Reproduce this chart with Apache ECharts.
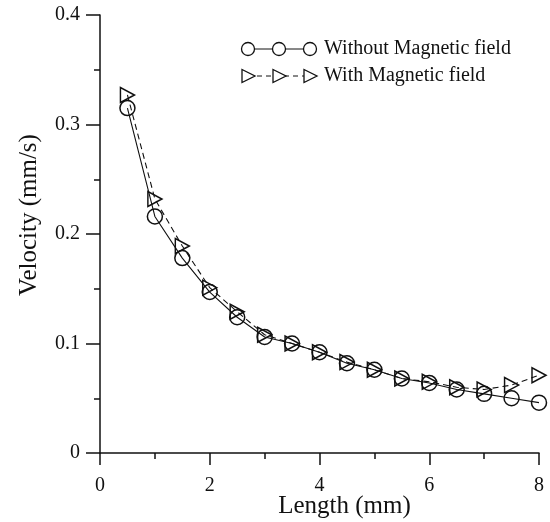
<!DOCTYPE html>
<html>
<head>
<meta charset="utf-8">
<script src="https://cdn.jsdelivr.net/npm/echarts@6/dist/echarts.min.js"></script>
<style>
  html, body { margin: 0; padding: 0; background: #fff; }
  #chart { width: 550px; height: 522px; }
</style>
</head>
<body>
<div id="chart"></div>
<script>
// Measurement positions along the sample (mm)
const lengths = [0.5, 1.0, 1.5, 2.0, 2.5, 3.0, 3.5, 4.0, 4.5, 5.0, 5.5, 6.0, 6.5, 7.0, 7.5, 8.0];
// Velocity without magnetic field (mm/s)
const velocityWithout = [0.315, 0.216, 0.178, 0.147, 0.124, 0.106, 0.100, 0.092, 0.082, 0.076, 0.068, 0.064, 0.058, 0.054, 0.050, 0.046];
// Velocity with magnetic field (mm/s)
const velocityWith = [0.327, 0.232, 0.189, 0.151, 0.129, 0.108, 0.100, 0.092, 0.083, 0.076, 0.068, 0.065, 0.060, 0.058, 0.062, 0.071];

const seriesNames = ['Without Magnetic field', 'With Magnetic field'];

const FONT = "'Liberation Serif', 'Times New Roman', serif";
const INK = '#111';

const pairs = (xs, ys) => xs.map((x, i) => [x, ys[i]]);

const chart = echarts.init(document.getElementById('chart'), null, { renderer: 'canvas' });

// Legend rows: short line with three markers, then the label
function legendRow(y, symbol, dashed, label) {
  const x0 = 248, x1 = 310, xm = 279;
  const children = [{
    type: 'line',
    shape: { x1: x0, y1: y, x2: x1, y2: y },
    style: { stroke: INK, lineWidth: 1, lineDash: dashed ? [5, 4] : null }
  }];
  [x0, xm, x1].forEach(cx => {
    if (symbol === 'circle') {
      children.push({
        type: 'circle',
        shape: { cx: cx, cy: y, r: 6.5 },
        style: { fill: '#fff', stroke: INK, lineWidth: 1.3 }
      });
    } else {
      children.push({
        type: 'polygon',
        shape: { points: [[cx - 6, y - 6.5], [cx + 7, y], [cx - 6, y + 6.5]] },
        style: { fill: '#fff', stroke: INK, lineWidth: 1.3 }
      });
    }
  });
  children.push({
    type: 'text',
    style: {
      x: 324, y: y, text: label, fill: INK,
      font: '20px ' + FONT, textVerticalAlign: 'middle', textAlign: 'left'
    }
  });
  return { type: 'group', children: children };
}

chart.setOption({
  backgroundColor: '#fff',
  animation: false,
  grid: { left: 100, top: 15, right: 11, bottom: 69, containLabel: false, outerBoundsMode: 'none' },
  xAxis: {
    type: 'value',
    min: 0, max: 8, interval: 2,
    name: 'Length (mm)',
    nameLocation: 'middle',
    nameGap: 41,
    nameMoveOverlap: false,
    nameTextStyle: { fontFamily: FONT, fontSize: 25, color: INK, padding: [0, 0, 0, 50] },
    axisLine: { show: true, lineStyle: { color: INK, width: 1.5 } },
    axisTick: { show: true, inside: false, length: 12, lineStyle: { color: INK, width: 1.5 } },
    minorTick: { show: true, splitNumber: 2, length: 6, lineStyle: { color: INK, width: 1.5 } },
    axisLabel: { fontFamily: FONT, fontSize: 20, color: INK, margin: 23 },
    splitLine: { show: false },
    minorSplitLine: { show: false }
  },
  yAxis: {
    type: 'value',
    min: 0, max: 0.4, interval: 0.1,
    name: 'Velocity (mm/s)',
    nameLocation: 'middle',
    nameGap: 58,
    nameMoveOverlap: false,
    nameTextStyle: { fontFamily: FONT, fontSize: 25, color: INK, padding: [0, 0, 0, 38] },
    axisLine: { show: true, lineStyle: { color: INK, width: 1.5 } },
    axisTick: { show: true, inside: false, length: 14, lineStyle: { color: INK, width: 1.5 } },
    minorTick: { show: true, splitNumber: 2, length: 6, lineStyle: { color: INK, width: 1.5 } },
    axisLabel: { fontFamily: FONT, fontSize: 20, color: INK, margin: 20 },
    splitLine: { show: false },
    minorSplitLine: { show: false }
  },
  series: [
    {
      name: seriesNames[0],
      type: 'line',
      data: pairs(lengths, velocityWithout),
      symbol: 'circle',
      symbolSize: 15,
      showAllSymbol: true,
      lineStyle: { color: INK, width: 1.1, type: 'solid' },
      itemStyle: { color: 'rgba(0,0,0,0)', borderColor: INK, borderWidth: 1.5 },
      z: 3
    },
    {
      name: seriesNames[1],
      type: 'line',
      data: pairs(lengths, velocityWith),
      symbol: 'triangle',
      symbolSize: [15, 14],
      symbolRotate: -90,
      showAllSymbol: true,
      lineStyle: { color: INK, width: 1.1, type: [6, 4] },
      itemStyle: { color: 'rgba(0,0,0,0)', borderColor: INK, borderWidth: 1.5 },
      z: 2
    }
  ],
  graphic: [
    legendRow(49, 'circle', false, seriesNames[0]),
    legendRow(76, 'triangle', true, seriesNames[1])
  ]
});
</script>
</body>
</html>
